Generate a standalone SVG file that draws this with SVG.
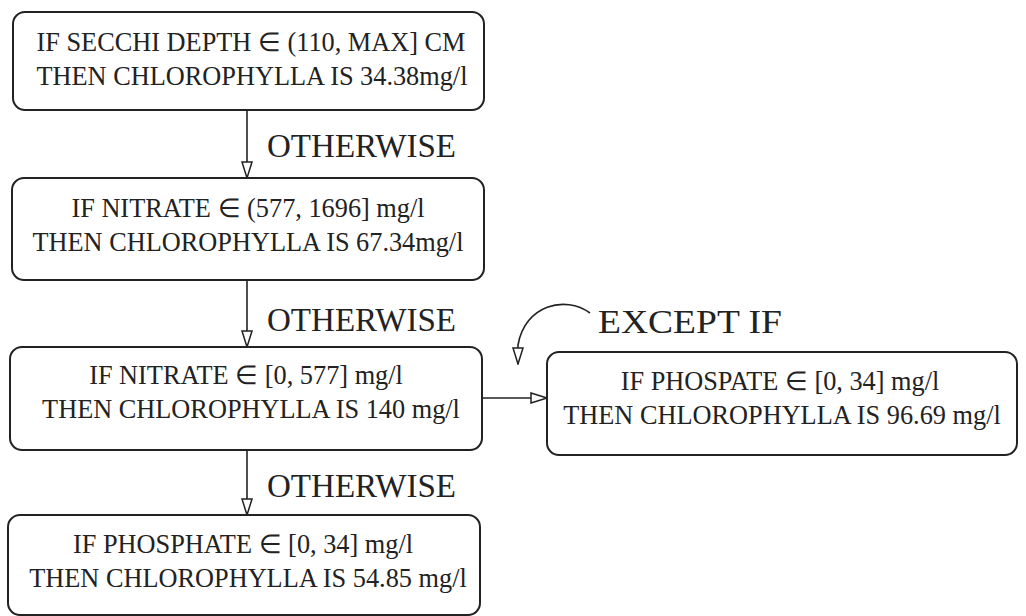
<svg xmlns="http://www.w3.org/2000/svg" width="1026" height="616" viewBox="0 0 1026 616">
<defs>
<marker id="tri" viewBox="0 0 18 12" refX="17" refY="6" markerWidth="18" markerHeight="12" markerUnits="userSpaceOnUse" orient="auto">
<path d="M1,1 L17,6 L1,11 Z" fill="#fff" stroke="#222" stroke-width="1.5"/>
</marker>
<style>
.box{fill:#fff;stroke:#222;stroke-width:2}
.t{font-family:"Liberation Serif",serif;font-size:26.3px;fill:#222;text-anchor:middle}
.lbl{font-family:"Liberation Serif",serif;font-size:33px;fill:#222}
.c{fill:none;stroke:#222;stroke-width:1.6}
</style>
</defs>
<rect width="1026" height="616" fill="#fff"/>
<g id="connectors">
<line class="c" x1="247" y1="110" x2="247" y2="178" marker-end="url(#tri)"/>
<line class="c" x1="247" y1="280" x2="247" y2="347" marker-end="url(#tri)"/>
<line class="c" x1="247" y1="450" x2="247" y2="515" marker-end="url(#tri)"/>
<line class="c" x1="482" y1="398" x2="547" y2="398" marker-end="url(#tri)"/>
<path class="c" d="M590,313 C565,295 525,305 518,345 L518,364" marker-end="url(#tri)"/>
<text class="lbl" x="267" y="157" textLength="189" lengthAdjust="spacingAndGlyphs">OTHERWISE</text>
<text class="lbl" x="267" y="331" textLength="189" lengthAdjust="spacingAndGlyphs">OTHERWISE</text>
<text class="lbl" x="267" y="497" textLength="189" lengthAdjust="spacingAndGlyphs">OTHERWISE</text>
<text class="lbl" x="598" y="333" textLength="184" lengthAdjust="spacingAndGlyphs">EXCEPT IF</text>
</g>
<g id="n1">
<rect class="box" x="13" y="12" width="471" height="98" rx="12"/>
<text class="t" x="251" y="51">IF SECCHI DEPTH ∈ (110, MAX] CM</text>
<text class="t" x="252" y="85">THEN CHLOROPHYLLA IS 34.38mg/l</text>
</g>
<g id="n2">
<rect class="box" x="12" y="178" width="472" height="102" rx="12"/>
<text class="t" x="248" y="217">IF NITRATE ∈ (577, 1696] mg/l</text>
<text class="t" x="248" y="251">THEN CHLOROPHYLLA IS 67.34mg/l</text>
</g>
<g id="n3">
<rect class="box" x="10" y="347" width="472" height="103" rx="12"/>
<text class="t" x="246" y="384">IF NITRATE ∈ [0, 577] mg/l</text>
<text class="t" x="251" y="418">THEN CHLOROPHYLLA IS 140 mg/l</text>
</g>
<g id="n4">
<rect class="box" x="8" y="515" width="472" height="100" rx="12"/>
<text class="t" x="243" y="553">IF PHOSPHATE ∈ [0, 34] mg/l</text>
<text class="t" x="248" y="587">THEN CHLOROPHYLLA IS 54.85 mg/l</text>
</g>
<g id="n5">
<rect class="box" x="547" y="352" width="470" height="103" rx="12"/>
<text class="t" x="780" y="390">IF PHOSPATE ∈ [0, 34] mg/l</text>
<text class="t" x="782" y="424">THEN CHLOROPHYLLA IS 96.69 mg/l</text>
</g>
</svg>
